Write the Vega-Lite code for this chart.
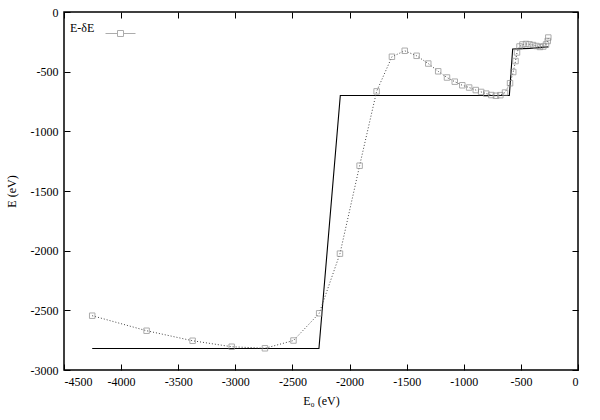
{
  "$schema": "https://vega.github.io/schema/vega-lite/v6.json",
  "width": 514,
  "height": 358,
  "autosize": {"type": "none"},
  "padding": {"left": 64, "top": 12, "right": 22, "bottom": 50},
  "background": "white",
  "config": {
    "font": "Liberation Serif",
    "view": {"stroke": "black", "strokeWidth": 1.5},
    "axis": {
      "labelFont": "Liberation Serif",
      "titleFont": "Liberation Serif",
      "labelFontSize": 12,
      "titleFontSize": 12,
      "titleFontWeight": "normal",
      "labelColor": "black",
      "titleColor": "black",
      "grid": false,
      "domain": false,
      "tickColor": "black",
      "tickSize": -6,
      "tickWidth": 1
    },
    "legend": {
      "titleFont": "Liberation Serif",
      "labelFont": "Liberation Serif",
      "titleFontWeight": "normal"
    }
  },
  "datasets": {
    "solid": [
      {"E0": -4253, "E": -2820},
      {"E0": -2268, "E": -2820},
      {"E0": -2081, "E": -700},
      {"E0": -601, "E": -700},
      {"E0": -572, "E": -310},
      {"E0": -420, "E": -305},
      {"E0": -260, "E": -292}
    ],
    "dotted": [
      {"E0": -4253, "E": -2545},
      {"E0": -3777, "E": -2671},
      {"E0": -3374, "E": -2755},
      {"E0": -3032, "E": -2805},
      {"E0": -2741, "E": -2818},
      {"E0": -2491, "E": -2753},
      {"E0": -2266, "E": -2525},
      {"E0": -2084, "E": -2025},
      {"E0": -1912, "E": -1288},
      {"E0": -1763, "E": -665},
      {"E0": -1629, "E": -375},
      {"E0": -1517, "E": -325},
      {"E0": -1413, "E": -367},
      {"E0": -1311, "E": -432},
      {"E0": -1224, "E": -497},
      {"E0": -1147, "E": -549},
      {"E0": -1079, "E": -584},
      {"E0": -1013, "E": -614},
      {"E0": -953, "E": -633},
      {"E0": -895, "E": -654},
      {"E0": -848, "E": -670},
      {"E0": -803, "E": -684},
      {"E0": -759, "E": -696},
      {"E0": -718, "E": -702},
      {"E0": -680, "E": -697},
      {"E0": -639, "E": -675},
      {"E0": -595, "E": -597},
      {"E0": -567, "E": -503},
      {"E0": -547, "E": -411},
      {"E0": -534, "E": -339},
      {"E0": -512, "E": -289},
      {"E0": -486, "E": -272},
      {"E0": -455, "E": -268},
      {"E0": -425, "E": -271},
      {"E0": -394, "E": -277},
      {"E0": -363, "E": -285},
      {"E0": -333, "E": -293},
      {"E0": -304, "E": -289},
      {"E0": -280, "E": -272},
      {"E0": -265, "E": -243},
      {"E0": -260, "E": -214}
    ]
  },
  "layer": [
    {
      "data": {"name": "solid"},
      "mark": {"type": "line", "color": "black", "strokeWidth": 1.1},
      "encoding": {
        "x": {
          "field": "E0", "type": "quantitative",
          "scale": {"domain": [-4500, 0], "nice": false},
          "title": "E₀ (eV)",
          "axis": {
            "orient": "bottom",
            "values": [-4500, -4000, -3500, -3000, -2500, -2000, -1500, -1000, -500, 0],
            "labelExpr": "'' + datum.value",
            "labelPadding": 12,
            "titlePadding": 8
          }
        },
        "y": {
          "field": "E", "type": "quantitative",
          "scale": {"domain": [-3000, 0], "nice": false},
          "title": "E (eV)",
          "axis": {
            "orient": "left",
            "values": [-3000, -2500, -2000, -1500, -1000, -500, 0],
            "labelExpr": "'' + datum.value",
            "labelPadding": 12,
            "titlePadding": 12
          }
        }
      }
    },
    {
      "data": {"name": "dotted"},
      "mark": {"type": "line", "color": "#444", "strokeWidth": 1, "strokeDash": [1, 2]},
      "encoding": {
        "x": {
          "field": "E0", "type": "quantitative",
          "axis": {
            "orient": "top", "labels": false, "title": null,
            "values": [-4500, -4000, -3500, -3000, -2500, -2000, -1500, -1000, -500, 0]
          }
        },
        "y": {
          "field": "E", "type": "quantitative",
          "axis": {
            "orient": "right", "labels": false, "title": null,
            "values": [-3000, -2500, -2000, -1500, -1000, -500, 0]
          }
        }
      }
    },
    {
      "data": {"name": "dotted"},
      "mark": {"type": "point", "shape": "square", "filled": false, "size": 30, "strokeWidth": 1},
      "encoding": {
        "x": {"field": "E0", "type": "quantitative", "axis": null},
        "y": {"field": "E", "type": "quantitative", "axis": null},
        "color": {
          "datum": "E-δE",
          "scale": {"range": ["#8a8a8a"]},
          "legend": {
            "orient": "top-left",
            "offset": 6,
            "title": "E-δE",
            "titleOrient": "left",
            "titleFontSize": 12,
            "titleColor": "black",
            "titlePadding": 10,
            "labelExpr": "''",
            "symbolType": "M-1,0H-0.2M0.2,0H1M-0.2,-0.2H0.2V0.2H-0.2Z",
            "symbolSize": 900,
            "symbolStrokeWidth": 1,
            "symbolFillColor": "transparent"
          }
        }
      }
    }
  ],
  "resolve": {"axis": {"x": "independent", "y": "independent"}}
}
